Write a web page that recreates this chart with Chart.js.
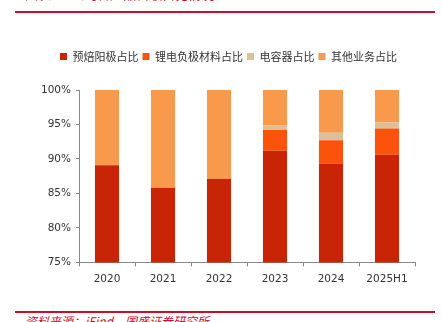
<!DOCTYPE html>
<html>
<head>
<meta charset="utf-8">
<script src="https://cdn.jsdelivr.net/npm/chart.js@4.4.1/dist/chart.umd.min.js"></script>
<style>
  body { margin: 0; background: #fff; }
  #wrap { position: relative; width: 442px; height: 322px; overflow: hidden; }
  .cap { position: absolute; left: 25px; color: #c8102e; font-family: "Noto Sans CJK SC"; font-size: 13px; white-space: nowrap; }
  .rule { position: absolute; left: 15px; width: 420px; height: 2px; background: #c8102e; }
  #box { position: absolute; left: 0; top: 30px; width: 442px; height: 263px; }
</style>
</head>
<body>
<div id="wrap">
  <div class="cap" style="top:-16px;">图表8：公司各产品营收占比情况</div>
  <div class="rule" style="top:11px;"></div>
  <div id="box"><canvas id="c"></canvas></div>
  <div class="rule" style="top:311px;"></div>
  <div class="cap" style="top:312px; font-style:italic; font-size:12px;">资料来源：iFind，国盛证券研究所</div>
</div>
<script>
const years = ['2020', '2021', '2022', '2023', '2024', '2025H1'];
const anode = [89.1, 85.8, 87.1, 91.2, 89.3, 90.6];
const lithium = [0, 0, 0, 3.0, 3.4, 3.8];
const capacitor = [0, 0, 0, 0.7, 1.1, 0.9];
const other = [10.9, 14.2, 12.9, 5.1, 6.2, 4.7];

// nudge the legend right and leave a gap under it
const legendShift = {
    id: 'legendShift',
    afterUpdate(chart) {
        chart.legend.left += 21;
        chart.legend.right += 21;
    }
};

new Chart(document.getElementById('c'), {
    type: 'bar',
    data: {
        labels: years,
        datasets: [
            { label: '预焙阳极占比', data: anode, backgroundColor: '#c82506' },
            { label: '锂电负极材料占比', data: lithium, backgroundColor: '#fc530a' },
            { label: '电容器占比', data: capacitor, backgroundColor: '#dac09b' },
            { label: '其他业务占比', data: other, backgroundColor: '#f9994b' }
        ]
    },
    plugins: [legendShift, {
        id: 'legendGap',
        beforeInit(chart) {
            const fit = chart.legend.fit;
            chart.legend.fit = function () { fit.call(this); this.height += 18; };
        }
    }],
    options: {
        responsive: true,
        maintainAspectRatio: false,
        animation: false,
        datasets: { bar: { categoryPercentage: 1, barPercentage: 0.43 } },
        layout: { padding: { left: 0, right: 27, top: 17, bottom: 0 } },
        plugins: {
            legend: {
                labels: {
                    boxWidth: 7, boxHeight: 7, padding: 4, color: '#333',
                    font: { family: 'Noto Sans CJK SC', size: 11 }
                }
            },
            tooltip: { enabled: false }
        },
        scales: {
            x: {
                stacked: true,
                grid: { display: true, drawOnChartArea: false, color: '#888', tickLength: 4 },
                border: { color: '#888' },
                ticks: { color: '#333', padding: 7, font: { family: 'DejaVu Sans', size: 10.5 } }
            },
            y: {
                stacked: true,
                min: 75, max: 100,
                afterFit: s => { s.width = 79; },
                grid: { display: true, drawOnChartArea: false, color: '#888', tickLength: 3 },
                border: { color: '#888' },
                ticks: {
                    stepSize: 5, color: '#333', padding: 5,
                    font: { family: 'DejaVu Sans', size: 10.5 },
                    callback: v => v + '%'
                }
            }
        }
    }
});
</script>
</body>
</html>
